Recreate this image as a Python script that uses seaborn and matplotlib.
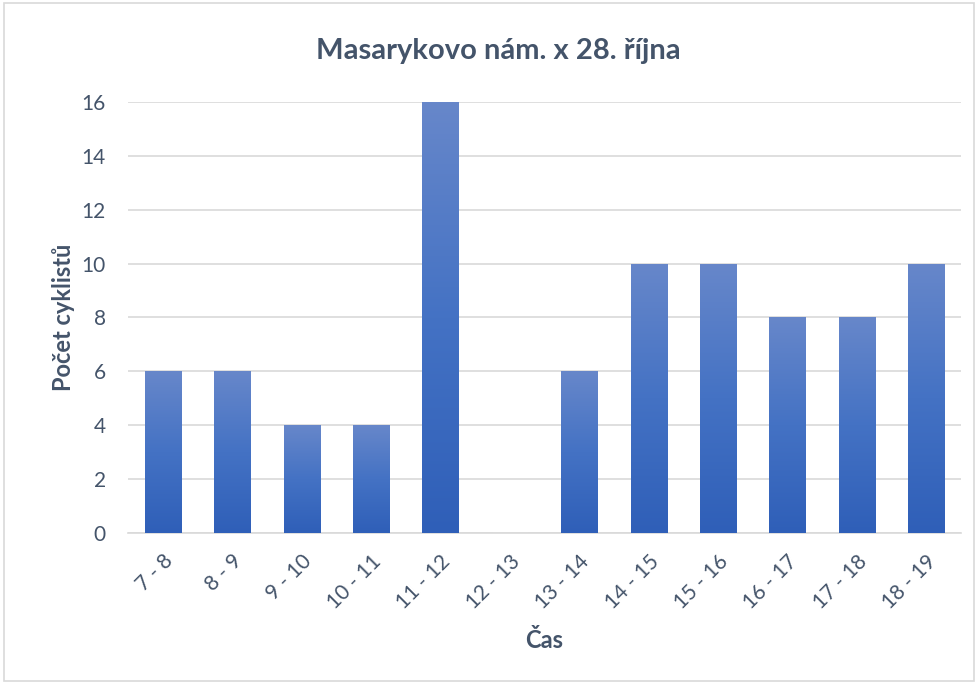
import numpy as np
import pandas as pd
import matplotlib
matplotlib.use("Agg")
import matplotlib.pyplot as plt
from matplotlib.colors import LinearSegmentedColormap
from matplotlib.patches import Rectangle
import seaborn as sns

casy = ["7 - 8", "8 - 9", "9 - 10", "10 - 11", "11 - 12", "12 - 13",
        "13 - 14", "14 - 15", "15 - 16", "16 - 17", "17 - 18", "18 - 19"]
pocty = [6, 6, 4, 4, 16, 0, 6, 10, 10, 8, 8, 10]

df = pd.DataFrame({"Čas": casy, "Počet cyklistů": pocty})

sns.set_style("white")
plt.rcParams['font.family'] = ['Lato', 'DejaVu Sans']
txt = "#44546A"

fig = plt.figure(figsize=(9.78, 6.84), dpi=100)
ax = fig.add_axes([0.1309, 0.2208, 0.8517, 0.6301])

sns.barplot(data=df, x="Čas", y="Počet cyklistů", color="#4472C4",
            width=0.52, ax=ax, zorder=2)

# gradient fill, lighter on top
cmap = LinearSegmentedColormap.from_list("g", ["#2F5FB8", "#4472C4", "#6787CA"])
grad = np.linspace(0, 1, 256).reshape(-1, 1)
for p in list(ax.patches):
    h = p.get_height()
    if h <= 0:
        continue
    x0 = p.get_x()
    w = p.get_width()
    im = ax.imshow(grad, cmap=cmap, aspect="auto", origin="lower",
                   extent=[x0, x0 + w, 0, h], zorder=3)
    im.set_clip_path(p)
    p.set_facecolor("none")
    p.set_edgecolor("none")

ax.set_xlim(-0.5, len(casy) - 0.5)
ax.set_ylim(0, 16)
ax.set_yticks(range(0, 17, 2))
ax.yaxis.grid(True, color="#D9D9D9", linewidth=1.2, zorder=0)
ax.set_axisbelow(True)
sns.despine(ax=ax, left=True)
ax.spines["bottom"].set_color("#D9D9D9")
ax.spines["bottom"].set_linewidth(1.2)

ax.tick_params(axis="both", length=0, labelsize=15, colors=txt)
ax.tick_params(axis="y", pad=16)
ax.tick_params(axis="x", pad=13)
plt.setp(ax.get_xticklabels(), rotation=45, ha="right", rotation_mode="anchor")

fig.suptitle("Masarykovo nám. x 28. října", fontsize=21, fontweight="bold",
             color=txt, x=0.51, y=0.925, va="center")
ax.set_xlabel("Čas", fontsize=17, fontweight="bold", color=txt, labelpad=12)
ax.set_ylabel("Počet cyklistů", fontsize=17, fontweight="bold", color=txt, labelpad=5)

fig.patches.append(Rectangle((0.004, 0.004), 0.992, 0.992, transform=fig.transFigure,
                             fill=False, edgecolor="#D9D9D9", linewidth=1.2))

fig.savefig("out.png", dpi=100, facecolor="white")
